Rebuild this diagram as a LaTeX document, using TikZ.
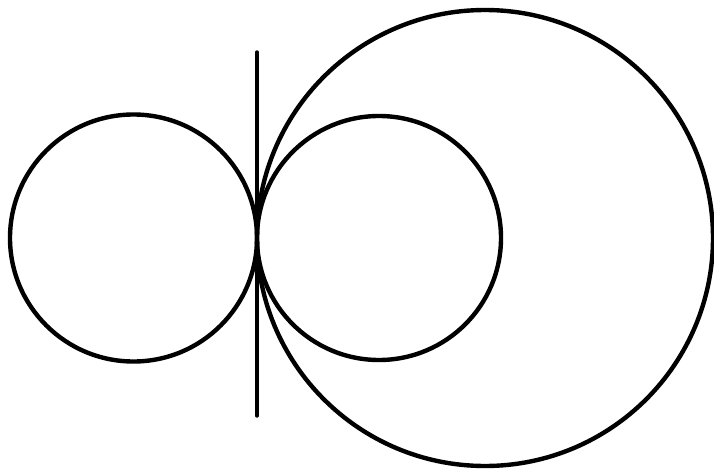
\documentclass[tikz,border=0pt]{standalone}
\usepackage{tikz}
\usetikzlibrary{calc}

\begin{document}
\begin{tikzpicture}[
        x=1pt,
        y=-1pt,
        rim/.style={
            draw=black,
            line width=4.4pt
        },
        axis/.style={
            draw=black,
            line width=3.4pt,
            line cap=round
        }
    ]
        \useasboundingbox (0,0) rectangle (714,476);

        % Points
        \coordinate (touch) at (257,238);
        \coordinate (top) at (257,52);
        \coordinate (bottom) at (257,416);

        % Circles
        \draw [rim] (133.5,238) circle [radius=123.5];
        \draw [rim] (379,238) circle [radius=122];
        \draw [rim] (485,238) circle [radius=228];

        % Tangent line
        \draw [axis] (top) -- (touch) -- (bottom);

    \end{tikzpicture}
\end{document}
